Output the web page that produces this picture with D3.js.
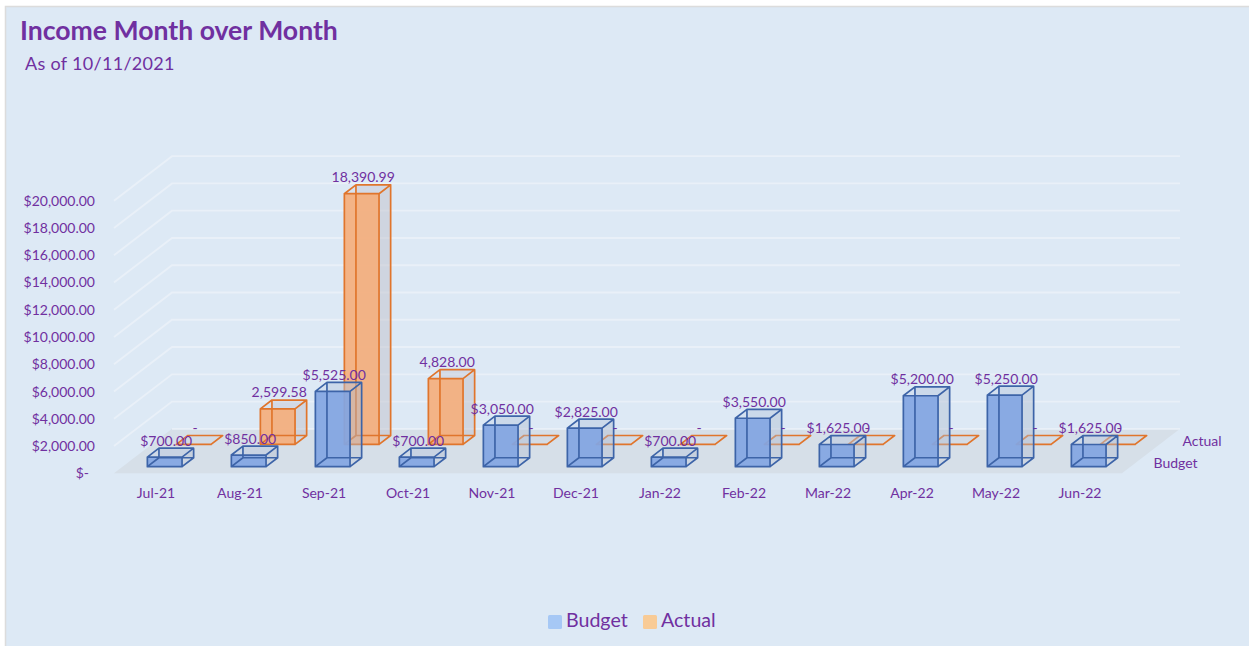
<!DOCTYPE html>
<html>
<head>
<meta charset="utf-8">
<script src="https://cdn.jsdelivr.net/npm/d3@7"></script>
<style>
  html, body { margin: 0; padding: 0; background: #fff; }
  svg { display: block; font-family: Lato, "Open Sans", sans-serif; }
  text { fill: #7030a0; }
</style>
</head>
<body>
<div id="chart"></div>
<script>
const months = ['Jul-21', 'Aug-21', 'Sep-21', 'Oct-21', 'Nov-21', 'Dec-21', 'Jan-22', 'Feb-22', 'Mar-22', 'Apr-22', 'May-22', 'Jun-22'];
const seriesNames = ['Budget', 'Actual'];
const budget = [700, 850, 5525, 700, 3050, 2825, 700, 3550, 1625, 5200, 5250, 1625];
const actual = [0, 2599.58, 18390.99, 4828, 0, 0, 0, 0, 0, 0, 0, 0];
const yTicks = [0, 2000, 4000, 6000, 8000, 10000, 12000, 14000, 16000, 18000, 20000];

const width = 1249, height = 646;

const svg = d3.select('#chart').append('svg')
  .attr('width', width)
  .attr('height', height);

// Panel
svg.append('rect').attr('x', 0).attr('y', 0).attr('width', width).attr('height', height).attr('fill', '#fff');
svg.append('rect')
  .attr('x', 5.5).attr('y', 6.5)
  .attr('width', width).attr('height', height)
  .attr('fill', '#dde9f5')
  .attr('stroke', '#dcdcdc')
  .attr('stroke-width', 1.5);

// Scales
const x = d3.scaleBand().domain(months).range([114, 1122]).paddingInner(0.587).paddingOuter(0.2935);
const y = d3.scaleLinear().domain([0, 20000]).range([473.3, 200.7]);
const depth = d3.scaleBand().domain(seriesNames).range([0, 1]).paddingInner(0.6).paddingOuter(0.3);
const depthX = d3.scaleLinear().domain([0, 1]).range([0, 58]);
const depthY = d3.scaleLinear().domain([0, 1]).range([0, -44.5]);

// front-plane x, depth fraction, value -> screen point
const project = (px, d, v) => [px + depthX(d), y(v) + depthY(d)];
const line = pts => 'M' + pts.map(p => p.join(',')).join('L');
const poly = pts => line(pts) + 'Z';

// Walls and floor
const x0 = x.range()[0], x1 = x.range()[1];
svg.append('path')
  .attr('d', poly([project(x0, 0, 0), project(x1, 0, 0), project(x1, 1, 0), project(x0, 1, 0)]))
  .attr('fill', '#d6dfe8');

svg.append('g').selectAll('path')
  .data(yTicks.filter(t => t > 0))
  .enter().append('path')
  .attr('d', t => line([project(x0, 0, t), project(x0, 1, t), project(x1, 1, t)]))
  .attr('fill', 'none')
  .attr('stroke', '#e9f0f8')
  .attr('stroke-width', 1.8);
svg.append('path')
  .attr('d', line([project(x0, 1, 0), project(x1, 1, 0)]))
  .attr('stroke', '#e9f0f8')
  .attr('stroke-width', 1.8);

// Axes
const yAxis = svg.append('g')
  .attr('transform', 'translate(102,0)')
  .call(d3.axisLeft(y).tickValues(yTicks).tickSize(0)
    .tickFormat(t => t === 0 ? '$-' : d3.format('$,.2f')(t)));
yAxis.select('.domain').remove();
yAxis.selectAll('text')
  .attr('x', t => t === 0 ? -13 : -7)
  .style('font-size', '14px')
  .style('font-family', 'Lato, sans-serif');

const xAxis = svg.append('g')
  .attr('transform', 'translate(0,493)')
  .call(d3.axisBottom(x).tickSize(0));
xAxis.select('.domain').remove();
xAxis.selectAll('text')
  .attr('y', 0)
  .attr('dy', '0.35em')
  .style('font-size', '14px')
  .style('font-family', 'Lato, sans-serif');

// Series names on the depth axis
svg.append('g').selectAll('text')
  .data(seriesNames)
  .enter().append('text')
  .attr('x', d => project(x1, depth(d) + depth.bandwidth() / 2, 0)[0] + 17)
  .attr('y', d => project(x1, depth(d) + depth.bandwidth() / 2, 0)[1] + 1)
  .attr('dy', '0.35em')
  .style('font-size', '14px')
  .text(d => d);

// 3D bars, drawn back series first
const colors = {
  Budget: { stroke: '#3d64a8', front: '#82a5e2', top: 'rgba(190,205,228,0.3)', side: 'rgba(175,190,210,0.24)' },
  Actual: { stroke: '#e0752c', front: '#f4ae7c', top: 'rgba(200,205,220,0.2)', side: 'rgba(195,195,205,0.3)' }
};

function drawBars(name, values) {
  const c = colors[name];
  const d0 = depth(name), d1 = d0 + depth.bandwidth();
  const g = svg.append('g').attr('class', 'bars-' + name);
  const bars = g.selectAll('g')
    .data(values.map((v, i) => ({ month: months[i], value: v })))
    .enter().append('g');

  const lx = d => x(d.month), rx = d => x(d.month) + x.bandwidth();

  // faces, far ones first
  bars.append('path')
    .attr('d', d => poly([project(lx(d), d1, 0), project(rx(d), d1, 0), project(rx(d), d1, d.value), project(lx(d), d1, d.value)]))
    .attr('fill', c.side);
  bars.append('path')
    .attr('d', d => poly([project(rx(d), d0, 0), project(rx(d), d1, 0), project(rx(d), d1, d.value), project(rx(d), d0, d.value)]))
    .attr('fill', c.side);
  bars.append('path')
    .attr('d', d => poly([project(lx(d), d0, d.value), project(rx(d), d0, d.value), project(rx(d), d1, d.value), project(lx(d), d1, d.value)]))
    .attr('fill', c.top);
  bars.append('path')
    .attr('d', d => poly([project(lx(d), d0, 0), project(rx(d), d0, 0), project(rx(d), d0, d.value), project(lx(d), d0, d.value)]))
    .attr('fill', c.front)
    .attr('fill-opacity', 0.92);

  // wireframe, hidden edges included
  bars.append('path')
    .attr('d', d => {
      const a = [lx(d), rx(d)];
      const floorBack = line([project(a[0], d0, 0), project(a[0], d1, 0), project(a[1], d1, 0), project(a[1], d0, 0)]);
      const topFace = poly([project(a[0], d0, d.value), project(a[1], d0, d.value), project(a[1], d1, d.value), project(a[0], d1, d.value)]);
      const front = poly([project(a[0], d0, 0), project(a[1], d0, 0), project(a[1], d0, d.value), project(a[0], d0, d.value)]);
      const verts = line([project(a[0], d1, 0), project(a[0], d1, d.value)]) + line([project(a[1], d1, 0), project(a[1], d1, d.value)]);
      return floorBack + topFace + front + verts;
    })
    .attr('fill', 'none')
    .attr('stroke', c.stroke)
    .attr('stroke-width', 1.7)
    .attr('stroke-linejoin', 'round');
}

drawBars('Actual', actual);
drawBars('Budget', budget);

// Data labels on top of everything
const budgetFmt = d3.format('$,.2f');
const actualFmt = v => v === 0 ? '-' : d3.format(',.2f')(v);

function drawLabels(name, values, fmt) {
  const d1 = depth(name) + depth.bandwidth();
  svg.append('g').selectAll('text')
    .data(values.map((v, i) => ({ month: months[i], value: v })))
    .enter().append('text')
    .attr('x', d => x(d.month) + x.bandwidth() / 2 + depthX(depth(name)) + 1.5)
    .attr('y', d => project(0, d1, d.value)[1] - 7.5)
    .attr('dy', '0.35em')
    .attr('text-anchor', 'middle')
    .style('font-size', '14px')
    .text(d => fmt(d.value));
}
drawLabels('Actual', actual, actualFmt);
drawLabels('Budget', budget, budgetFmt);

// Title
svg.append('text')
  .attr('x', 20).attr('y', 39.5)
  .style('font-size', '26.6px')
  .style('font-weight', 700)
  .text('Income Month over Month');
svg.append('text')
  .attr('x', 25).attr('y', 69.5)
  .style('font-size', '18px')
  .style('letter-spacing', '0.3px')
  .text('As of 10/11/2021');

// Legend
const legendColors = { Budget: '#a6c8f5', Actual: '#f8cb96' };
const legendX = { Budget: 548, Actual: 643 };
const legend = svg.append('g').selectAll('g')
  .data(seriesNames)
  .enter().append('g')
  .attr('transform', d => `translate(${legendX[d]},615)`);
legend.append('rect')
  .attr('width', 14).attr('height', 14).attr('rx', 1.5)
  .attr('fill', d => legendColors[d]);
legend.append('text')
  .attr('x', 18).attr('y', 11)
  .attr('dy', '0.05em')
  .style('font-size', '19.6px')
  .text(d => d);
</script>
</body>
</html>
